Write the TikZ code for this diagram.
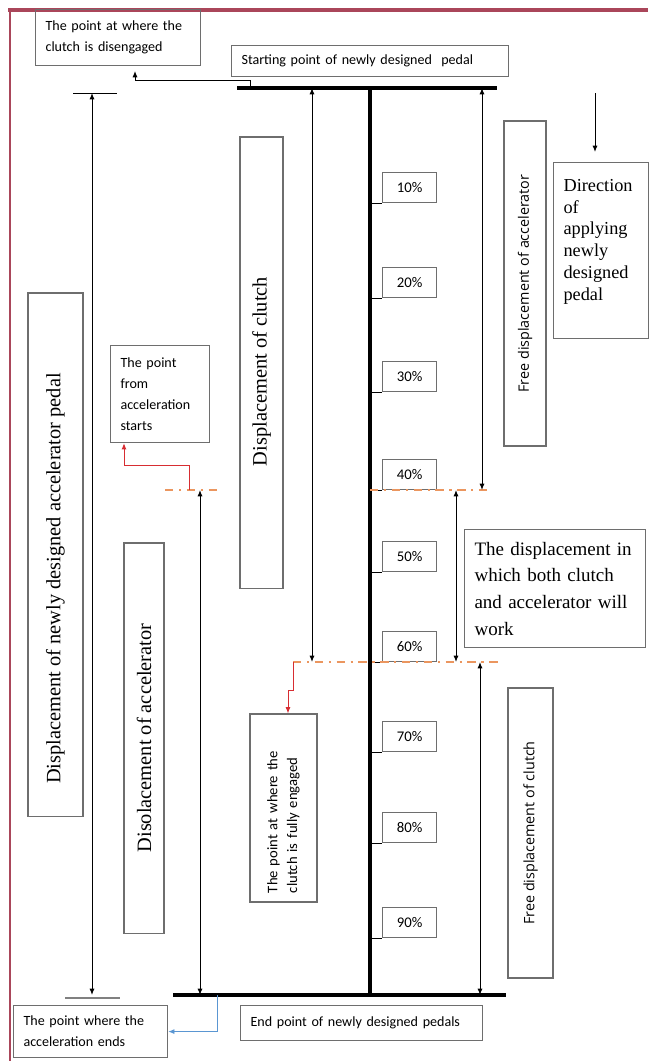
\documentclass[tikz,border=0pt]{standalone}
\usepackage{fontspec}
\setmainfont{Liberation Serif}
\newfontfamily\calib{Carlito}
\newfontfamily\opensans{Open Sans}
\usetikzlibrary{arrows.meta}

\definecolor{framered}{RGB}{170,70,90}
\definecolor{boxgray}{RGB}{110,110,110}
\definecolor{dashorange}{RGB}{235,150,95}
\definecolor{arrowred}{RGB}{215,45,50}
\definecolor{arrowblue}{RGB}{90,150,210}

\tikzstyle{block} = [rectangle, draw=boxgray, line width=0.8pt, anchor=north west, align=left,
    inner xsep=0.25cm, inner ysep=2pt, font=\calib\fontsize{10}{15}\selectfont]
\tikzstyle{sblock} = [block, font=\fontsize{13}{15.5}\selectfont]
\tikzstyle{vblock} = [rectangle, draw=boxgray, line width=0.8pt, rotate=90,
    font=\fontsize{14.5}{17}\selectfont]
\tikzstyle{vsans} = [vblock, font=\opensans\fontsize{10.2}{12}\selectfont]
\tikzstyle{pct} = [rectangle, draw=boxgray, line width=0.8pt, anchor=south west,
    minimum width=1.35cm, minimum height=0.75cm, font=\calib\fontsize{10.5}{12}\selectfont]
\tikzstyle{line} = [draw, line width=0.7pt, -{Latex[length=4.5pt,width=3.6pt]}]
\tikzstyle{dim} = [draw, line width=0.7pt, {Latex[length=4.5pt,width=3.6pt]}-{Latex[length=4.5pt,width=3.6pt]}]
\tikzstyle{redline} = [line, draw=arrowred]
\tikzstyle{blueline} = [line, draw=arrowblue]
\tikzstyle{odash} = [draw=dashorange, line width=0.75pt, dash pattern=on 6pt off 4pt on 1.5pt off 4pt]
\tikzstyle{bar} = [draw, line width=2.8pt]

\begin{document}
\begin{tikzpicture}[x=0.025cm, y=-0.025cm]
    \useasboundingbox (0,0) rectangle (656,1061);
    % frame
    \draw[framered, line width=2.2pt] (8,10) -- (648,10);
    \draw[framered, line width=1.4pt] (10,10) -- (10,1061);

    % pedal bars and main line
    \coordinate (tbL) at (237,88);
    \coordinate (tbR) at (497,88);
    \coordinate (bbL) at (173,995);
    \coordinate (bbR) at (506,995);
    \coordinate (mainT) at (370,88);
    \coordinate (mainB) at (370,995);
    \draw[bar] (tbL) -- (tbR);
    \draw[bar] (bbL) -- (bbR);
    \draw[line width=2.2pt] (mainT) -- (mainB);

    % percent marks
    \foreach \p/\y in {10/203,20/298,30/392,40/490,50/572,60/662,70/752,80/843,90/938}{
        \node[pct] (p\p) at (382,\y) {\p\%};
        \draw[line width=0.7pt] (370,\y) -- (p\p.south west);
    }

    % dashed levels
    \coordinate (d40a) at (165,490);
    \coordinate (d40b) at (217,490);
    \coordinate (d40c) at (370,490);
    \coordinate (d40d) at (493,490);
    \coordinate (d60a) at (293,662);
    \coordinate (d60b) at (498,662);
    \draw[odash] (d40a) -- (d40b);
    \draw[odash] (d40c) -- (d40d);
    \draw[odash] (d60a) -- (d60b);

    % ends of the accelerator pedal travel
    \coordinate (pl1) at (73,93);
    \coordinate (pl2) at (117,93);
    \coordinate (pl3) at (65,998);
    \coordinate (pl4) at (120,998);
    \draw[line width=0.7pt] (pl1) -- (pl2);
    \draw[gray, line width=1.4pt] (pl3) -- (pl4);

    % Place nodes
    \node[block, text width=3.625cm, minimum height=1.4cm] (diseng) at (35,9) {The point at where the\\clutch is disengaged};
    \node[block, text width=6.425cm, minimum height=0.775cm] (start) at (231,45) {Starting point of newly designed\ \ pedal};
    \node[block, text width=1.975cm, minimum height=2.425cm] (fromacc) at (110,345) {The point\\from\\acceleration\\starts};
    \node[block, text width=3.35cm, minimum height=1.3cm] (accend) at (13,1005) {The point where the\\acceleration ends};
    \node[block, text width=5.55cm, minimum height=0.875cm] (endpt) at (240,1005) {End point of newly designed pedals};

    \node[sblock, text width=1.875cm, minimum height=4.4cm] (dir) at (553,162) {Direction\\of\\applying\\newly\\designed\\pedal\\ \mbox{}};
    \node[sblock, font=\fontsize{13.5}{19}\selectfont, text width=4.025cm, minimum height=2.95cm] (both) at (464,529)
        {The displacement in\\which both clutch\\and accelerator will\\work};

    \node[vblock, minimum width=13.075cm, minimum height=1.375cm] (accped) at (55.5,554.5) {Displacement of newly designed accelerator pedal\hspace*{1.2cm}};
    \node[vblock, minimum width=11.275cm, minimum height=1.075cm] (clutch) at (261.5,362.5) {Displacement of clutch\hspace*{0.45cm}};
    \node[vblock, minimum width=9.75cm, minimum height=1cm] (accel) at (144,738) {Disolacement of accelerator};
    \node[vsans, minimum width=8.125cm, minimum height=1.05cm] (freeacc) at (525,283.5) {Free displacement of accelerator};
    \node[vsans, minimum width=7.25cm, minimum height=1.125cm] (freecl) at (530.5,833) {Free displacement of clutch};
    \node[vblock, font=\calib\fontsize{10.4}{14}\selectfont, align=left, text width=4.25cm, inner xsep=0.225cm,
        minimum height=1.675cm] (engaged) at (283.5,808) {The point at where the\\clutch is fully engaged};

    % Draw edges
    \draw[dim] (92,0 |- pl1) -- (92,0 |- bbL);
    \draw[dim] (312,0 |- tbL) -- (312,0 |- d60a);
    \draw[dim] (482,0 |- tbL) -- (482,0 |- d40c);
    \draw[dim] (200,0 |- d40a) -- (200,0 |- bbL);
    \draw[dim] (456,0 |- d40c) -- (456,0 |- d60a);
    \draw[dim] (480,0 |- d60a) -- (480,0 |- bbL);

    \coordinate (dirT) at (595,93);
    \path[line, shorten >=0.25cm] (dirT) -- (595,0 |- dir.north);
    \path[line, shorten >=0.12cm] (250,0 |- tbL) -- (250,80) -| (135,0 |- diseng.south);
    \path[redline] (189,0 |- d40a) |- (124,465) -- (124,0 |- fromacc.south);
    \path[redline] (293,0 |- d60a) -- (293,690) -| (288,0 |- engaged.east);
    \path[blueline] (217,0 |- bbL) |- (accend.east);

\end{tikzpicture}
\end{document}
